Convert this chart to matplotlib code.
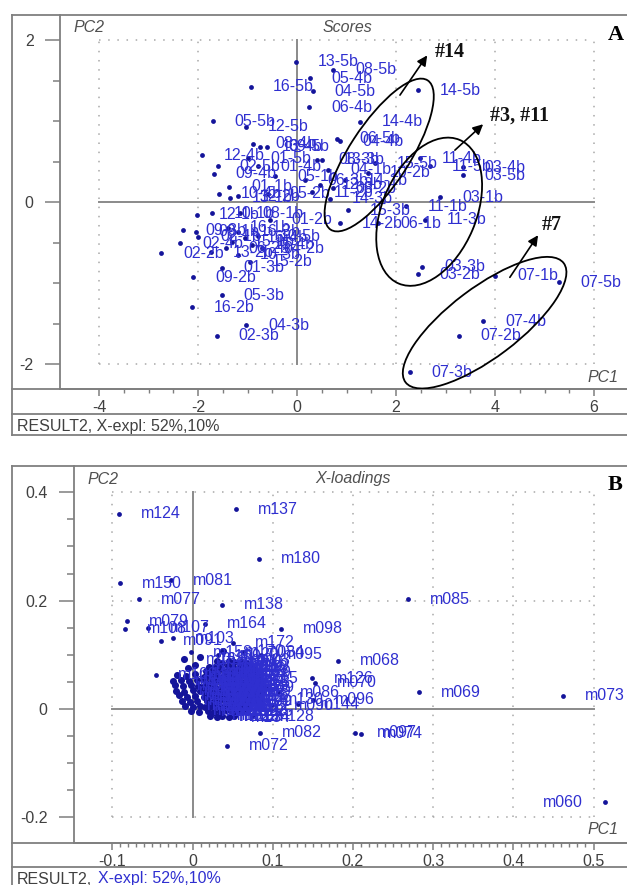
import matplotlib
matplotlib.use("Agg")
import matplotlib.pyplot as plt
from matplotlib.patches import Ellipse
from matplotlib.transforms import ScaledTranslation
from matplotlib.ticker import FixedLocator

plt.rcParams['font.family'] = ['Liberation Sans', 'DejaVu Sans']
plt.rcParams['axes.unicode_minus'] = False

# ---------------- panel A : scores ----------------
score_names = ['13-5b', '08-5b', '05-4b', '04-5b', '16-5b', '06-4b', '14-5b', '14-4b',
               '05-5b', '12-5b', '06-5b', '12-4b', '01-5b', '09-4b', '10-4b', '05-2b',
               '04-1b', '11-4b', '03-4b', '03-5b', '03-1b', '11-1b', '11-3b', '06-1b',
               '14-2b', '14-3b', '01-2b', '03-3b', '03-2b', '07-1b', '07-5b', '07-4b',
               '07-2b', '07-3b', '12-1b', '02-2b', '01-3b', '09-2b', '05-3b', '16-2b',
               '04-3b', '02-3b',
               '08-4b', '13-4b', '09-5b', '02-5b', '01-4b', '05-1b', '01-1b', '12-2b',
               '08-3b', '13-3b', '15-5b', '10-2b', '11-5b', '15-3b', '04-4b', '10-1b',
               '08-1b', '09-3b', '09-1b', '02-1b', '02-4b', '13-2b', '10-3b', '15-2b',
               '16-1b', '16-3b', '16-4b', '15-1b', '15-4b', '10-5b', '04-2b', '06-2b',
               '06-3b', '12-3b', '08-2b', '14-1b', '11-2b', '13-1b']
score_pc1 = [-0.02, 0.73, 0.26, 0.32, -0.93, 0.24, 2.44, 1.27,
             -1.70, -1.03, 0.81, -1.92, -0.99, -1.68, -1.58, -0.59,
             0.63, 2.48, 3.35, 3.35, 2.89, 2.20, 2.59, 1.64,
             0.87, 0.67, -0.55, 2.53, 2.44, 4.00, 5.29, 3.76,
             3.27, 2.28, -2.02, -2.75, -1.52, -2.10, -1.52, -2.12,
             -1.03, -1.62,
             -0.89, -0.75, -0.61, -1.60, -0.79, -0.44, -1.37, -1.19,
             0.40, 0.51, 1.58, 1.43, 2.69, 1.03, 0.87, -1.72,
             -1.15, -2.30, -2.04, -2.00, -2.36, -1.74, -1.19, -0.95,
             -1.39, -1.19, -1.05, -1.31, -0.91, -0.79, -0.71, -1.43,
             0.16, 0.46, 0.73, 0.97, 0.30, -1.35]
score_pc2 = [1.73, 1.63, 1.53, 1.37, 1.42, 1.17, 1.38, 0.99,
             1.00, 0.93, 0.78, 0.58, 0.54, 0.35, 0.10, 0.10,
             0.40, 0.54, 0.43, 0.33, 0.06, -0.05, -0.22, -0.26,
             -0.26, 0.04, -0.22, -0.80, -0.89, -0.91, -0.99, -1.47,
             -1.65, -2.10, -0.16, -0.63, -0.81, -0.93, -1.15, -1.30,
             -1.52, -1.65,
             0.72, 0.68, 0.68, 0.44, 0.44, 0.32, 0.19, 0.07,
             0.52, 0.52, 0.48, 0.36, 0.44, -0.10, 0.75, -0.14,
             -0.14, -0.35, -0.37, -0.43, -0.51, -0.62, -0.65, -0.74,
             -0.32, -0.37, -0.44, -0.49, -0.53, -0.42, -0.57, -0.57,
             0.27, 0.21, 0.17, 0.27, 0.12, 0.05]

# ---------------- panel B : X-loadings ----------------
load_names = ['m124', 'm137', 'm180', 'm150', 'm081', 'm077', 'm138', 'm085',
              'm079', 'm108', 'm107', 'm164', 'm098', 'm091', 'm103', 'm172',
              'm158', 'm120', 'm084', 'm095', 'm068', 'm126', 'm070', 'm069',
              'm073', 'm060', 'm097', 'm074', 'm082', 'm072', 'm096', 'm144',
              'm086', 'm115', 'm128', 'm123', 'm102', 'm113', 'm130', 'm090']
load_pc1 = [-0.092, 0.054, 0.083, -0.090, -0.027, -0.067, 0.037, 0.269,
            -0.082, -0.084, -0.055, 0.016, 0.110, -0.039, -0.024, 0.050,
            -0.002, 0.032, 0.063, 0.085, 0.181, 0.149, 0.153, 0.282,
            0.462, 0.514, 0.203, 0.210, 0.084, 0.043, 0.150, 0.132,
            0.107, 0.057, 0.075, 0.032, -0.045, 0.044, 0.087, 0.099]
load_pc2 = [0.360, 0.369, 0.277, 0.232, 0.238, 0.203, 0.192, 0.203,
            0.162, 0.148, 0.150, 0.157, 0.148, 0.126, 0.131, 0.122,
            0.105, 0.100, 0.105, 0.100, 0.089, 0.057, 0.048, 0.031,
            0.024, -0.172, -0.044, -0.046, -0.044, -0.068, 0.017, 0.009,
            0.031, 0.057, -0.013, -0.013, 0.063, 0.076, 0.017, 0.007]
left_labels = ['m060']

# dense cloud of small loadings (labels are unreadable in the original)
blob_pc1 = [0.030, 0.037, 0.045, 0.052, 0.060, 0.067,
            0.021, 0.029, 0.036, 0.044, 0.051, 0.059, 0.066, 0.074,
            0.017, 0.025, 0.032, 0.040, 0.047, 0.055, 0.062, 0.070, 0.078,
            0.014, 0.021, 0.029, 0.036, 0.044, 0.051, 0.059, 0.066, 0.074, 0.082,
            0.016, 0.024, 0.031, 0.039, 0.046, 0.054, 0.061, 0.069, 0.077, 0.085,
            0.013, 0.020, 0.028, 0.035, 0.043, 0.050, 0.058, 0.065, 0.073, 0.081, 0.089,
            0.017, 0.024, 0.032, 0.039, 0.047, 0.054, 0.062, 0.069, 0.077, 0.085,
            0.014, 0.021, 0.029, 0.036, 0.044, 0.051, 0.059, 0.066, 0.074, 0.082,
            0.018, 0.025, 0.033, 0.040, 0.048, 0.055, 0.063, 0.070, 0.078,
            0.016, 0.023, 0.031, 0.038, 0.046, 0.053, 0.061, 0.068,
            0.019, 0.027, 0.034, 0.042, 0.049, 0.057, 0.064,
            0.022, 0.030, 0.037, 0.045, 0.052,
            -0.019, -0.008, 0.003,
            -0.024, -0.014, -0.004, 0.006,
            -0.022, -0.012, -0.002, 0.007,
            -0.020, -0.010, 0.000, 0.009,
            -0.017, -0.007, 0.003,
            -0.013, -0.003, 0.006,
            -0.009, 0.001, 0.009,
            -0.002, 0.008,
            -0.011, 0.009, 0.038, 0.003, -0.005]
blob_pc2 = [0.088, 0.085, 0.089, 0.086, 0.087, 0.084,
            0.077, 0.079, 0.076, 0.080, 0.078, 0.077, 0.079, 0.076,
            0.070, 0.068, 0.071, 0.069, 0.067, 0.070, 0.068, 0.071, 0.069,
            0.059, 0.061, 0.060, 0.058, 0.061, 0.059, 0.062, 0.060, 0.058, 0.061,
            0.051, 0.049, 0.052, 0.050, 0.048, 0.051, 0.049, 0.052, 0.050, 0.049,
            0.040, 0.042, 0.041, 0.039, 0.042, 0.040, 0.043, 0.041, 0.039, 0.042, 0.040,
            0.031, 0.033, 0.032, 0.030, 0.033, 0.031, 0.032, 0.030, 0.033, 0.031,
            0.022, 0.024, 0.023, 0.021, 0.024, 0.022, 0.023, 0.021, 0.024, 0.022,
            0.015, 0.013, 0.014, 0.016, 0.013, 0.015, 0.014, 0.012, 0.015,
            0.004, 0.006, 0.005, 0.003, 0.006, 0.004, 0.005, 0.003,
            -0.003, -0.005, -0.004, -0.002, -0.005, -0.003, -0.004,
            -0.012, -0.014, -0.013, -0.015, -0.012,
            0.063, 0.061, 0.064,
            0.052, 0.054, 0.051, 0.053,
            0.044, 0.042, 0.045, 0.043,
            0.034, 0.032, 0.035, 0.033,
            0.025, 0.023, 0.024,
            0.015, 0.013, 0.014,
            0.006, 0.004, 0.005,
            -0.003, -0.005,
            0.092, 0.096, 0.107, 0.082, 0.075]
blob_names = [n for n in ['m%03d' % i for i in range(1, 181)] if n not in load_names]

DOT = '#14149a'
TXT = '#2f2fd0'
GRAY = '#7f7f7f'
TICK = '#404040'
FS = 11.5

W, H = 627, 885
fig = plt.figure(figsize=(W / 100, H / 100), dpi=100)

bg = fig.add_axes([0, 0, 1, 1], zorder=0)
bg.set_xlim(0, W)
bg.set_ylim(H, 0)
bg.axis('off')


def px_axes(left, top, right, bottom):
    ax = fig.add_axes([left / W, 1 - bottom / H, (right - left) / W, (bottom - top) / H], zorder=1)
    ax.set_facecolor('none')
    return ax


def frame(top, axis_y, foot_y, bottom):
    for y in (top, axis_y, foot_y, bottom):
        bg.plot([12, W], [y, y], color=GRAY, lw=1.3)
    bg.plot([12, 12], [top, bottom], color=GRAY, lw=1.3)


def style(ax, xlim, ylim, xmaj, xmin, ymaj, ymin, xlab, ylab):
    ax.set_xlim(xlim)
    ax.set_ylim(ylim)
    for s in ('top', 'right'):
        ax.spines[s].set_visible(False)
    for s in ('left', 'bottom'):
        ax.spines[s].set_color(GRAY)
        ax.spines[s].set_linewidth(1.3)
    ax.set_xticks(xmaj, labels=xlab)
    ax.set_yticks(ymaj, labels=ylab)
    ax.xaxis.set_minor_locator(FixedLocator(xmin))
    ax.yaxis.set_minor_locator(FixedLocator(ymin))
    ax.tick_params(axis='both', which='both', color=GRAY, labelcolor=TICK, labelsize=FS)
    ax.tick_params(axis='y', which='major', length=11, width=1.1, pad=8)
    ax.tick_params(axis='y', which='minor', length=5, width=1.1)
    ax.tick_params(axis='x', which='major', length=5, width=1.1, pad=3)
    ax.tick_params(axis='x', which='minor', length=3, width=1.0)
    bx = (xmaj[0], xmaj[-1])
    by = (ymaj[0], ymaj[-1])
    for v in xmaj:
        if v != 0:
            ax.plot([v, v], by, ls=(0, (1, 5)), color='#a8a8a8', lw=1.1, zorder=0)
    for v in ymaj:
        if v != 0:
            ax.plot(bx, [v, v], ls=(0, (1, 5)), color='#a8a8a8', lw=1.1, zorder=0)
    ax.plot([0, 0], by, color='#8a8a8a', lw=1.4, zorder=1)
    ax.plot(bx, [0, 0], color='#8a8a8a', lw=1.4, zorder=1)


def points(ax, xs, ys, names, size=12, label_max=None):
    ax.scatter(xs, ys, s=size, color=DOT, linewidths=0, zorder=3)
    for n, x, y in zip(names, xs, ys):
        if label_max is not None and x > label_max:
            continue
        left = n in left_labels
        ax.annotate(n, (x, y), xytext=(-22 if left else 22, 0), textcoords='offset pixels',
                    ha='right' if left else 'left', va='center', color=TXT,
                    fontsize=FS, zorder=4, annotation_clip=False)


# ---------- panel A ----------
frame(15, 389, 414, 435)
axA = px_axes(60, 15, W, 389)
style(axA, ((60 - 297) / 49.5, (W - 297) / 49.5), ((202 - 389) / 81, (202 - 15) / 81),
      [-4, -2, 0, 2, 4, 6], [-4 + 0.5 * i for i in range(21)],
      [-2, 0, 2], [-2 + 0.5 * i for i in range(9)],
      ['-4', '-2', '0', '2', '4', '6'], ['-2', '0', '2'])
points(axA, score_pc1, score_pc2, score_names)

# groups circled by hand in the original
for (cx, cy), a, b, ang in [((1.66, 0.58), 89, 30, 57),
                            ((2.67, -0.12), 78, 47, 67),
                            ((3.79, -1.49), 99, 35, 37)]:
    e = Ellipse((0, 0), 2 * a / 100, 2 * b / 100, angle=ang, fill=False,
                edgecolor='black', lw=1.3,
                transform=fig.dpi_scale_trans + ScaledTranslation(cx, cy, axA.transData),
                zorder=5)
    axA.add_patch(e)

for txt, start, end, pos in [('#14', (2.08, 1.32), (2.63, 1.81), (2.79, 1.85)),
                             ('#3, #11', (3.19, 0.64), (3.76, 0.96), (3.90, 1.07)),
                             ('#7', (4.30, -0.93), (4.87, -0.41), (4.95, -0.28))]:
    axA.annotate('', xy=end, xytext=start,
                 arrowprops=dict(arrowstyle='-|>', color='black', lw=1.2,
                                 mutation_scale=15, shrinkA=0, shrinkB=0), zorder=5)
    axA.text(pos[0], pos[1], txt, family='Liberation Serif', fontweight='bold',
             fontsize=14.5, ha='left', va='center', color='#111111', zorder=5)

bg.text(73, 28, 'PC2', style='italic', color='#505050', fontsize=FS, va='center')
bg.text(347, 28, 'Scores', style='italic', color='#505050', fontsize=FS, va='center', ha='center')
bg.text(588, 377, 'PC1', style='italic', color='#505050', fontsize=FS, va='center')
bg.text(616, 35, 'A', family='Liberation Serif', fontweight='bold', fontsize=16,
        ha='center', va='center')
bg.text(17, 426, 'RESULT2, X-expl: 52%,10%', color=TICK, fontsize=FS, va='center')

# ---------- panel B ----------
frame(466, 843, 867, 890)
axB = px_axes(74, 466, W, 843)
style(axB, ((74 - 192.5) / 802, (W - 192.5) / 802), ((709 - 843) / 541.7, (709 - 466) / 541.7),
      [-0.1, 0, 0.1, 0.2, 0.3, 0.4, 0.5], [-0.1 + 0.01 * i for i in range(61)],
      [-0.2, 0, 0.2, 0.4], [-0.2 + 0.05 * i for i in range(13)],
      ['-0.1', '0', '0.1', '0.2', '0.3', '0.4', '0.5'], ['-0.2', '0', '0.2', '0.4'])
points(axB, blob_pc1, blob_pc2, blob_names[:len(blob_pc1)], size=26, label_max=0.05)
points(axB, load_pc1, load_pc2, load_names)

bg.text(87, 479, 'PC2', style='italic', color='#505050', fontsize=FS, va='center')
bg.text(353, 479, 'X-loadings', style='italic', color='#505050', fontsize=FS, va='center', ha='center')
bg.text(587, 830, 'PC1', style='italic', color='#505050', fontsize=FS, va='center')
bg.text(615, 485, 'B', family='Liberation Serif', fontweight='bold', fontsize=16,
        ha='center', va='center')
bg.text(17, 879, 'RESULT2,', color=TICK, fontsize=FS, va='center')
bg.text(98, 879, 'X-expl: 52%,10%', color=TXT, fontsize=FS, va='center')

fig.savefig('out.png', dpi=100)
